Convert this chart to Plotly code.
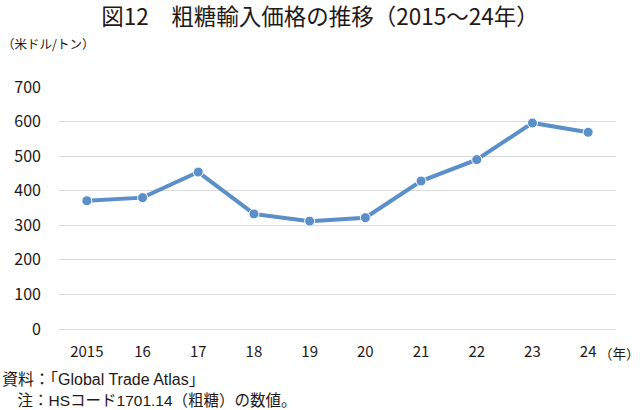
import plotly.graph_objects as go

years = ["2015", "16", "17", "18", "19", "20", "21", "22", "23", "24"]
prices = [371, 380, 454, 333, 312, 322, 428, 490, 596, 569]
y_ticks = [0, 100, 200, 300, 400, 500, 600, 700]

FONT = "Noto Sans CJK JP, Noto Sans, sans-serif"
NOTE_FONT = "Liberation Sans, Noto Sans CJK JP, sans-serif"

fig = go.Figure()
fig.add_trace(go.Scatter(
    x=years, y=prices, mode="lines+markers",
    line=dict(color="#5B8FC9", width=4),
    marker=dict(color="#5B8FC9", size=10, line=dict(color="white", width=1)),
    cliponaxis=False,
))

fig.update_layout(
    width=640, height=410,
    margin=dict(l=59, r=24, t=87, b=81),
    paper_bgcolor="white", plot_bgcolor="white",
    showlegend=False,
    font=dict(family=FONT, color="#231815"),
    title=dict(text="図12　粗糖輸入価格の推移（2015～24年）", x=0.5, xanchor="center",
               y=1 - 17 / 410, yanchor="middle", font=dict(size=22.5, family=FONT, color="#231815")),
)
fig.update_xaxes(type="category", range=[-0.5, 9.5], showgrid=False, showline=False,
                 ticks="", tickfont=dict(size=15), ticklabelstandoff=12)
fig.update_yaxes(range=[0, 700], tickvals=y_ticks, showgrid=True, gridcolor="#D9D9D9",
                 gridwidth=1, zeroline=True, zerolinecolor="#D9D9D9", zerolinewidth=1,
                 showline=False, ticks="", tickfont=dict(size=16), ticklabelstandoff=17)

fig.add_annotation(text="（米ドル/トン）", xref="paper", yref="paper",
                   x=-59 / 557, xanchor="left", y=1 + (87 - 43) / 242.3, yanchor="middle",
                   showarrow=False, font=dict(size=12.5))
fig.add_annotation(text="（年）", xref="paper", yref="paper",
                   x=1 + 25 / 557, xanchor="right", y=-(353 - 329.3) / 242.3, yanchor="middle",
                   showarrow=False, font=dict(size=13.5), borderpad=0)
fig.add_annotation(text="資料：「Global Trade Atlas」", xref="paper", yref="paper",
                   x=-59 / 557, xanchor="left", y=-(380 - 329.3) / 242.3, yanchor="middle",
                   showarrow=False, font=dict(size=16, family=NOTE_FONT))
fig.add_annotation(text="　注：HSコード1701.14（粗糖）の数値。", xref="paper", yref="paper",
                   x=-59 / 557, xanchor="left", y=-(401 - 329.3) / 242.3, yanchor="middle",
                   showarrow=False, font=dict(size=15.5, family=NOTE_FONT))

fig.write_html("out.html", config={"displayModeBar": False},
               post_script="document.body.style.margin='0';document.body.style.overflow='hidden';")
